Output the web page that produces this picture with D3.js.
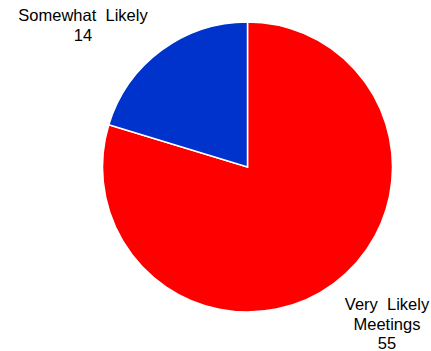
<!DOCTYPE html>
<html>
<head>
<meta charset="utf-8">
<script src="https://cdn.jsdelivr.net/npm/d3@7"></script>
<style>
  body { margin: 0; background: #fff; }
  text { font-family: "Liberation Sans", Arial, sans-serif; font-size: 16.5px; fill: #000; }
</style>
</head>
<body>
<div id="chart"></div>
<script>
const categories = ["Very Likely Meetings", "Somewhat Likely"];
const values = [55, 14];
const colors = ["#ff0000", "#0033cc"];
const labelLines = [["Very  Likely", "Meetings", "55"], ["Somewhat  Likely", "14"]];

const width = 431, height = 351;
const cx = 247.5, cy = 167, radius = 145;

const svg = d3.select("#chart")
    .append("svg")
    .attr("width", width)
    .attr("height", height);

const data = categories.map((c, i) => ({ category: c, value: values[i], color: colors[i], lines: labelLines[i] }));

const pie = d3.pie()
    .sort(null)
    .value(d => d.value);

const arc = d3.arc()
    .innerRadius(0)
    .outerRadius(radius);

const g = svg.append("g")
    .attr("transform", `translate(${cx}, ${cy})`);

const arcs = pie(data);

g.selectAll("path")
    .data(arcs)
    .join("path")
    .attr("d", arc)
    .attr("fill", d => d.data.color)
    .attr("stroke", "#fff")
    .attr("stroke-width", 1.5)
    .attr("stroke-linejoin", "miter");

// label anchors, placed outside the slices
const labelPos = [
    { x: 387, y: 310, step: 19.5 },
    { x: 83, y: 21, step: 20 }
];

svg.selectAll("text.label")
    .data(arcs)
    .join("text")
    .attr("class", "label")
    .attr("text-anchor", "middle")
    .attr("xml:space", "preserve")
    .each(function(d, i) {
        const t = d3.select(this);
        d.data.lines.forEach((line, j) => {
            t.append("tspan")
                .attr("x", labelPos[i].x)
                .attr("y", labelPos[i].y + j * labelPos[i].step)
                .text(line);
        });
    });
</script>
</body>
</html>
